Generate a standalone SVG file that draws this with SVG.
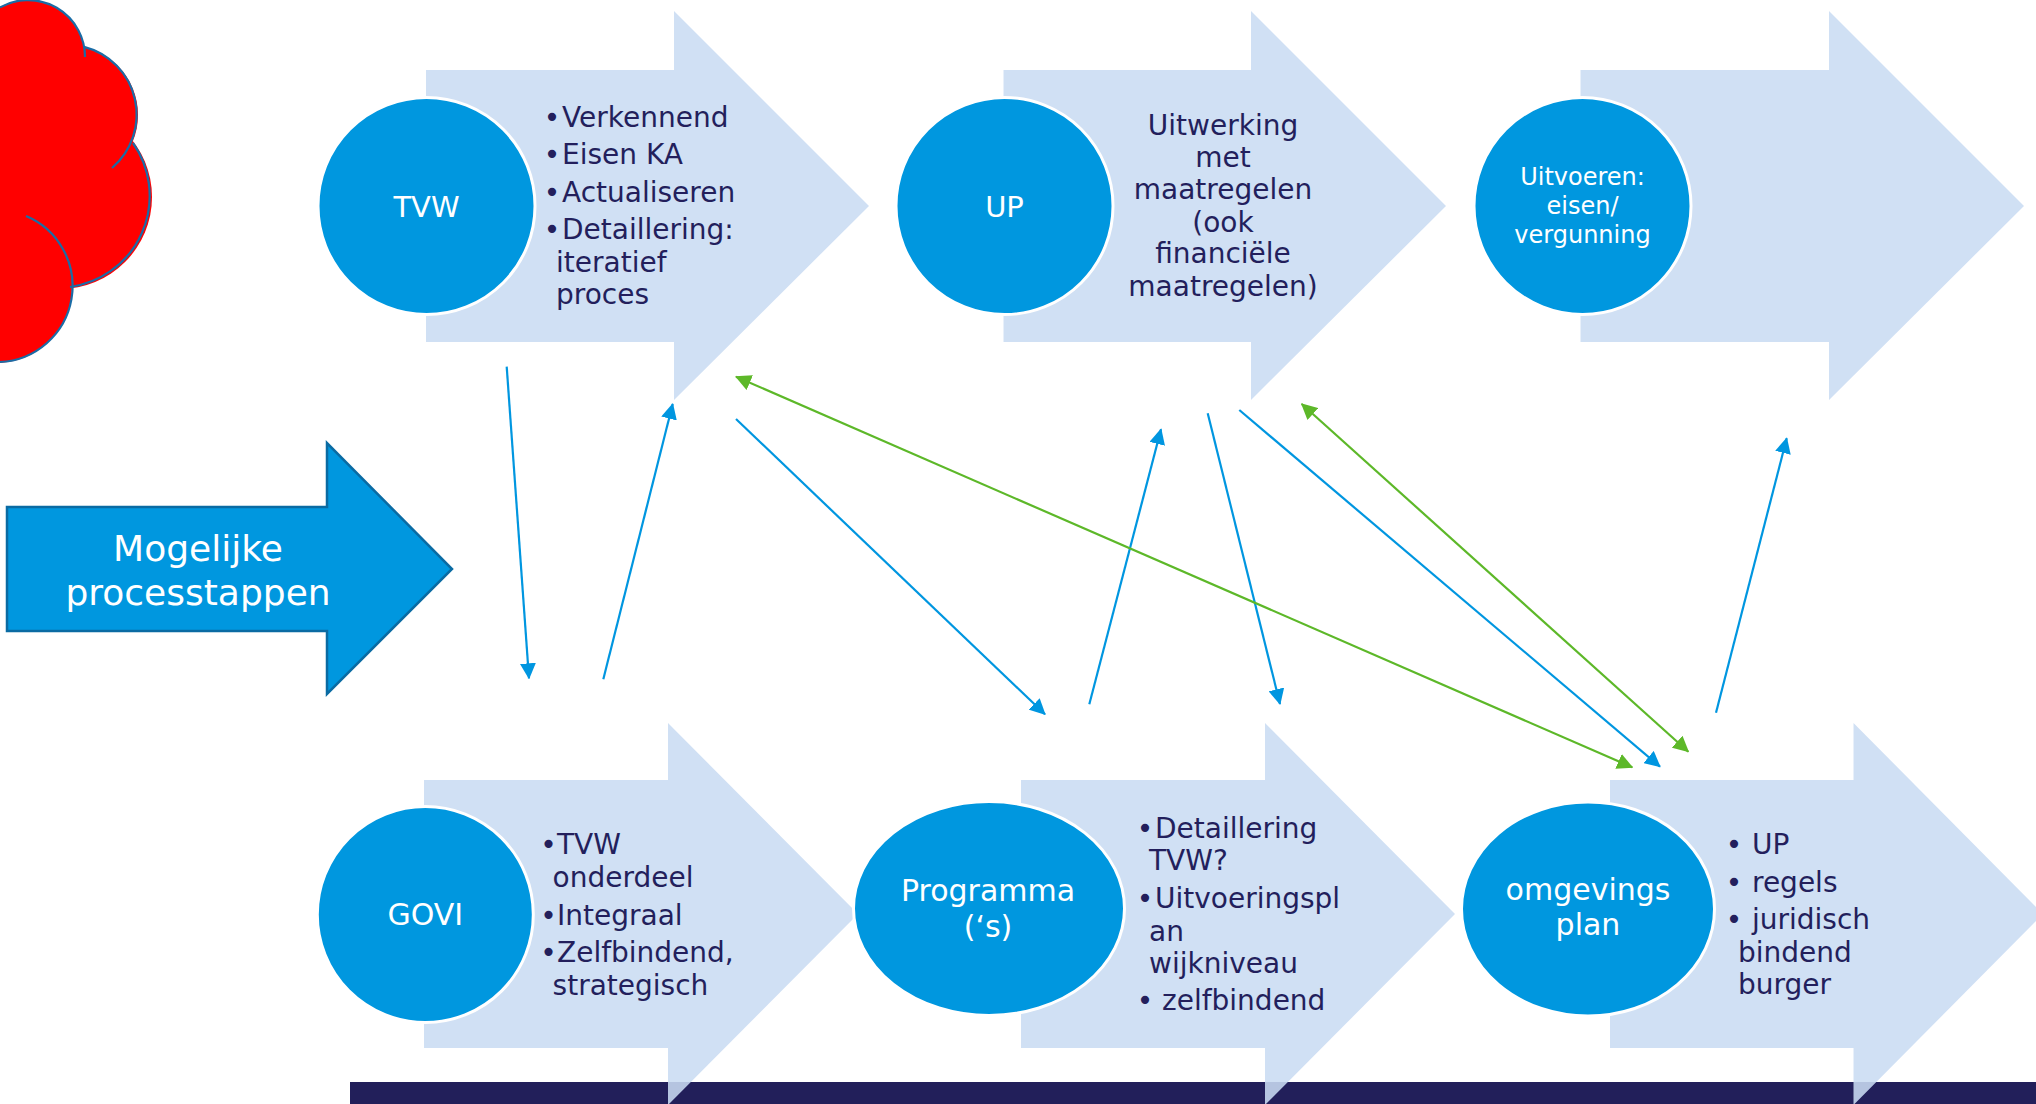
<svg xmlns="http://www.w3.org/2000/svg" width="2036" height="1104" viewBox="0 0 2036 1104">
<style>
.bg{fill:#FFFFFF}
.arr{fill:#CADCF2;opacity:0.88}
.circ{fill:#0097DF;stroke:#FFFFFF;stroke-width:3}
.t{font-family:"DejaVu Sans","Liberation Sans",sans-serif;font-size:28px;fill:#231F5C}
.w{font-family:"DejaVu Sans","Liberation Sans",sans-serif;fill:#FFFFFF;text-anchor:middle}
.c{text-anchor:middle}
.bl{stroke:#0096E0;stroke-width:2.2;fill:none}
.gr{stroke:#5DB829;stroke-width:2.2;fill:none}
.cl{fill:none;stroke:#1A6CA6;stroke-width:2.2}
</style>
<defs>
<marker id="mb" viewBox="0 0 16 16" refX="15" refY="8" markerWidth="16" markerHeight="16" markerUnits="userSpaceOnUse" orient="auto-start-reverse"><path d="M0,0 L16,8 L0,16 z" fill="#0096E0"/></marker>
<marker id="mg" viewBox="0 0 16 16" refX="15" refY="8" markerWidth="16" markerHeight="16" markerUnits="userSpaceOnUse" orient="auto-start-reverse"><path d="M0,0 L16,8 L0,16 z" fill="#5DB829"/></marker>
</defs>
<rect class="bg" x="0" y="0" width="2036" height="1104"/>

<g id="cloud">
<circle cx="28" cy="57" r="57" fill="#FF0000"/>
<circle cx="68" cy="115" r="70" fill="#FF0000"/>
<circle cx="60" cy="197" r="92" fill="#FF0000"/>
<circle cx="-4" cy="287" r="76" fill="#FF0000"/>
<rect x="0" y="40" width="40" height="300" fill="#FF0000"/>
<path class="cl" d="M0,7.4 A57,57 0 0 1 85,57"/>
<path class="cl" d="M84.1,46.9 A70,70 0 0 1 112,168"/>
<path class="cl" d="M133,143 A92,92 0 0 1 70,287"/>
<path class="cl" d="M26,216 A76,76 0 0 1 0,362"/>
</g>

<g id="bar"><rect x="350" y="1082" width="1686" height="22" fill="#221F5A"/></g>

<g id="mogelijke">
<path d="M7,507 L327,507 L327,443 L452,569 L327,694 L327,631 L7,631 Z" fill="#0097DF" stroke="#0A6BA3" stroke-width="2.5"/>
<text class="w" x="198" y="561" font-size="36">Mogelijke</text>
<text class="w" x="198" y="605" font-size="36">processtappen</text>
</g>

<g id="arrows">
<path class="arr" d="M426,70 L674,70 L674,11 L869,206 L674,400 L674,342 L426,342 Z"/>
<path class="arr" d="M1003.5,70 L1251,70 L1251,11 L1446,206 L1251,400 L1251,342 L1003.5,342 Z"/>
<path class="arr" d="M1580.5,70 L1829,70 L1829,11 L2024,206 L1829,400 L1829,342 L1580.5,342 Z"/>
<path class="arr" d="M424,780 L668,780 L668,723 L858,914 L668,1105 L668,1048 L424,1048 Z"/>
<path class="arr" d="M1021,780 L1265,780 L1265,723 L1455,914 L1265,1105 L1265,1048 L1021,1048 Z"/>
<path class="arr" d="M1610,780 L1853.5,780 L1853.5,723 L2043,914 L1853.5,1105 L1853.5,1048 L1610,1048 Z"/>
</g>

<g id="tvw">
<circle class="circ" cx="426.5" cy="206" r="108.5"/>
<text class="w" x="426.5" y="217" font-size="29">TVW</text>
<text class="t c" x="552" y="127">•</text><text class="t" x="562" y="127">Verkennend</text>
<text class="t c" x="552" y="164">•</text><text class="t" x="562" y="164">Eisen KA</text>
<text class="t c" x="552" y="202">•</text><text class="t" x="562" y="202">Actualiseren</text>
<text class="t c" x="552" y="239">•</text><text class="t" x="562" y="239">Detaillering:</text>
<text class="t" x="556" y="272">iteratief</text>
<text class="t" x="556" y="304">proces</text>
</g>

<g id="up">
<circle class="circ" cx="1004.5" cy="206" r="108.5"/>
<text class="w" x="1004.5" y="217" font-size="29">UP</text>
<text class="t c" x="1223" y="135">Uitwerking</text>
<text class="t c" x="1223" y="167">met</text>
<text class="t c" x="1223" y="199">maatregelen</text>
<text class="t c" x="1223" y="232">(ook</text>
<text class="t c" x="1223" y="263">financiële</text>
<text class="t c" x="1223" y="296">maatregelen)</text>
</g>

<g id="uitvoeren">
<circle class="circ" cx="1582.5" cy="206" r="108.5"/>
<text class="w" x="1582.5" y="185" font-size="24">Uitvoeren:</text>
<text class="w" x="1582.5" y="214" font-size="24">eisen/</text>
<text class="w" x="1582.5" y="243" font-size="24">vergunning</text>
</g>

<g id="govi">
<circle class="circ" cx="425.3" cy="914.5" r="108"/>
<text class="w" x="425.3" y="925" font-size="30">GOVI</text>
<text class="t c" x="548.4" y="854">•</text><text class="t" x="557" y="854">TVW</text>
<text class="t" x="552.6" y="887">onderdeel</text>
<text class="t c" x="548.4" y="925">•</text><text class="t" x="557" y="925">Integraal</text>
<text class="t c" x="548.4" y="962">•</text><text class="t" x="557" y="962">Zelfbindend,</text>
<text class="t" x="552.6" y="995">strategisch</text>
</g>

<g id="programma">
<ellipse class="circ" cx="989" cy="908.5" rx="135.5" ry="107"/>
<text class="w" x="988" y="901" font-size="30">Programma</text>
<text class="w" x="988" y="937" font-size="30">(‘s)</text>
<text class="t c" x="1145" y="838">•</text><text class="t" x="1155" y="838">Detaillering</text>
<text class="t" x="1149" y="870">TVW?</text>
<text class="t c" x="1145" y="908">•</text><text class="t" x="1155" y="908">Uitvoeringspl</text>
<text class="t" x="1149" y="941">an</text>
<text class="t" x="1149" y="973">wijkniveau</text>
<text class="t c" x="1145" y="1010">•</text><text class="t" x="1162" y="1010">zelfbindend</text>
</g>

<g id="omgevingsplan">
<ellipse class="circ" cx="1588" cy="909" rx="126.5" ry="107"/>
<text class="w" x="1588" y="900" font-size="30">omgevings</text>
<text class="w" x="1588" y="935" font-size="30">plan</text>
<text class="t c" x="1734" y="854">•</text><text class="t" x="1752" y="854">UP</text>
<text class="t c" x="1734" y="892">•</text><text class="t" x="1752" y="892">regels</text>
<text class="t c" x="1734" y="929">•</text><text class="t" x="1752" y="929">juridisch</text>
<text class="t" x="1738" y="962">bindend</text>
<text class="t" x="1738" y="994">burger</text>
</g>

<g id="connectors">
<line class="bl" x1="506.7" y1="366.7" x2="529" y2="678.3" marker-end="url(#mb)"/>
<line class="bl" x1="603.3" y1="679.3" x2="672.7" y2="404" marker-end="url(#mb)"/>
<line class="bl" x1="736" y1="419" x2="1045" y2="714.3" marker-end="url(#mb)"/>
<line class="bl" x1="1089.3" y1="704.3" x2="1161" y2="429.3" marker-end="url(#mb)"/>
<line class="bl" x1="1207.7" y1="413.3" x2="1280" y2="704" marker-end="url(#mb)"/>
<line class="bl" x1="1239.3" y1="410" x2="1660" y2="766.7" marker-end="url(#mb)"/>
<line class="bl" x1="1716" y1="712.7" x2="1786.7" y2="438.3" marker-end="url(#mb)"/>
<line class="gr" x1="736" y1="376.7" x2="1632.3" y2="767.3" marker-start="url(#mg)" marker-end="url(#mg)"/>
<line class="gr" x1="1301.7" y1="404" x2="1688.3" y2="751.7" marker-start="url(#mg)" marker-end="url(#mg)"/>
</g>
</svg>
